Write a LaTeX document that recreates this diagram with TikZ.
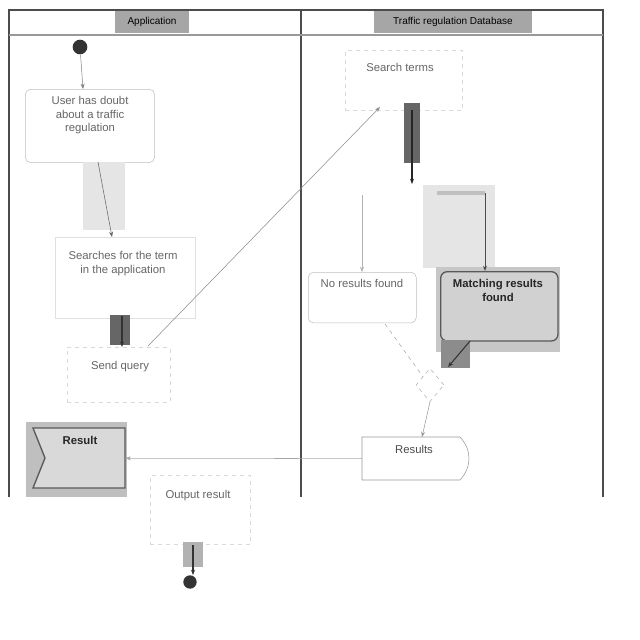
\documentclass[tikz,border=0pt]{standalone}
\usepackage{fontspec}
\setmainfont{Liberation Sans}
\usetikzlibrary{arrows.meta,shapes.geometric}
\begin{document}
\begin{tikzpicture}[x=0.75pt,y=-0.75pt,
  lane/.style={draw=black!70,line width=1.6pt},
  hdr/.style={fill=black!35,inner sep=1.5pt,font=\fontsize{7.5}{8}\selectfont},
  actbox/.style={draw=black!25,rounded corners=4pt,fill=white},
  faintbox/.style={draw=black!15,dashed,fill=white},
  txt/.style={font=\fontsize{8.5}{10}\selectfont,text=black!60,align=center,anchor=north,inner sep=1pt},
  flow/.style={draw=black!50,-{Stealth[length=4pt,width=3pt]}},
  dot/.style={circle,fill=black!80,inner sep=0pt,minimum size=11pt}]
\useasboundingbox (0,0) rectangle (640,640);
\fill[white] (0,0) rectangle (640,640);
% lanes
\draw[lane] (9,497) -- (9,10) -- (603,10) -- (603,497);
\draw[lane] (301,10) -- (301,497);
\draw[draw=black!40,line width=1.2pt] (9,35) -- (603,35);
\node[hdr,minimum width=56pt,minimum height=16pt] (happ) at (152,22) {Application};
\node[hdr,minimum width=118pt,minimum height=16pt] (hdb) at (453,22) {Traffic regulation Database};
% start
\node[dot] (start) at (80,47) {};
% user has doubt
\node[actbox,minimum width=97pt,minimum height=55pt,anchor=north west] (doubt) at (25,89) {};
\node[txt] (tdoubt) at (90,95) {User has doubt\\about a traffic\\regulation};
\draw[flow] (start) -- (doubt.north -| 83,0);
% light bar
\fill[black!10] (83,162) rectangle (125,230);
\coordinate (c1) at (98,162);
\coordinate (c2) at (112,237);
\draw[flow,draw=black!60] (c1) -- (c2);
% searches
\node[draw=black!12,fill=white,minimum width=105pt,minimum height=61pt,anchor=north west] (search) at (55,237) {};
\node[txt] (tsearch) at (123,250) {Searches for the term\\in the application};
% dark bar
\fill[black!60] (110,315) rectangle (130,345);
\node[faintbox,minimum width=77pt,minimum height=41pt,anchor=north west] (send) at (67,347) {};
\node[txt] (tsend) at (120,360) {Send query};
\coordinate (c3) at (122,316);
\draw[flow,draw=black!80,line width=0.8pt] (c3) -- (send.north -| c3);
% search terms
\node[faintbox,minimum width=88pt,minimum height=45pt,anchor=north west] (terms) at (345,50) {};
\node[txt] (tterms) at (400,62) {Search terms};
\coordinate (c4) at (148,346);
\coordinate (c5) at (380,107);
\draw[flow,draw=black!45] (c4) -- (c5);
% dark bar db
\fill[black!60] (404,103) rectangle (420,163);
\coordinate (c6) at (412,110);
\coordinate (c7) at (412,184);
\draw[flow,draw=black!85,line width=0.8pt] (c6) -- (c7);
% branches
\node[actbox,minimum width=81pt,minimum height=38pt,anchor=north west] (nores) at (308,272) {};
\node[txt] (tnores) at (362,278) {No results found};
\coordinate (c8) at (362,195);
\draw[flow,draw=black!30] (c8) -- (nores.north -| c8);
\fill[black!10] (423,185) rectangle (495,268);
\fill[black!25] (437,191) rectangle (485,195);
\fill[black!22] (436,267) rectangle (560,352);
\node[draw=black!65,line width=1pt,rounded corners=5pt,fill=black!18,minimum width=88pt,minimum height=52pt,anchor=north west] (match) at (440,271) {};
\node[txt,text=black!85,font=\fontsize{8.5}{10}\selectfont\bfseries] (tmatch) at (498,278) {Matching results\\found};
\coordinate (c9) at (485,193);
\draw[flow,draw=black!70,line width=0.7pt] (c9) -- (match.north -| c9);
% decision
\node[diamond,draw=black!30,dashed,minimum width=21pt,minimum height=25pt,inner sep=0pt] (dec) at (430,385) {};
\coordinate (c10) at (385,324);
\draw[draw=black!35,dashed] (c10) -- (dec.north west);
\fill[black!45] (441,340) rectangle (470,368);
\coordinate (c11) at (470,341);
\draw[flow,draw=black!80,line width=0.8pt] (c11) -- (448,367);
% results
\path[draw=black!40,fill=white] (362,437) -- (460,437) .. controls (472,450) and (472,467) .. (460,480) -- (362,480) -- cycle;
\node[inner sep=0pt,minimum width=82pt,minimum height=32pt,anchor=north west] (results) at (362,437) {};
\node[txt,text=black!70] (tresults) at (414,444) {Results};
\draw[flow,draw=black!40] (dec.south) -- (results.north -| 422,0);
% result signal
\fill[black!25] (26,422) rectangle (127,497);
\path[draw=black!65,line width=1pt,fill=black!15] (33,428) -- (125,428) -- (125,488) -- (33,488) -- (45,458) -- cycle;
\node[inner sep=0pt,minimum width=69pt,minimum height=45pt,anchor=north west] (result) at (33,428) {};
\node[txt,text=black!85,font=\fontsize{8.5}{10}\selectfont\bfseries] (tresult) at (80,435) {Result};
\draw[flow,draw=black!35] (results.west) -- (result.east);
% output result
\node[faintbox,minimum width=75pt,minimum height=52pt,anchor=north west] (output) at (150,475) {};
\node[txt] (toutput) at (198,489) {Output result};
\fill[black!30] (183,542) rectangle (203,567);
\node[dot,minimum size=10pt] (end) at (190,582) {};
\coordinate (c12) at (193,545);
\draw[flow,draw=black!80,line width=0.8pt] (c12) -- (end.north -| c12);
\end{tikzpicture}
\end{document}
